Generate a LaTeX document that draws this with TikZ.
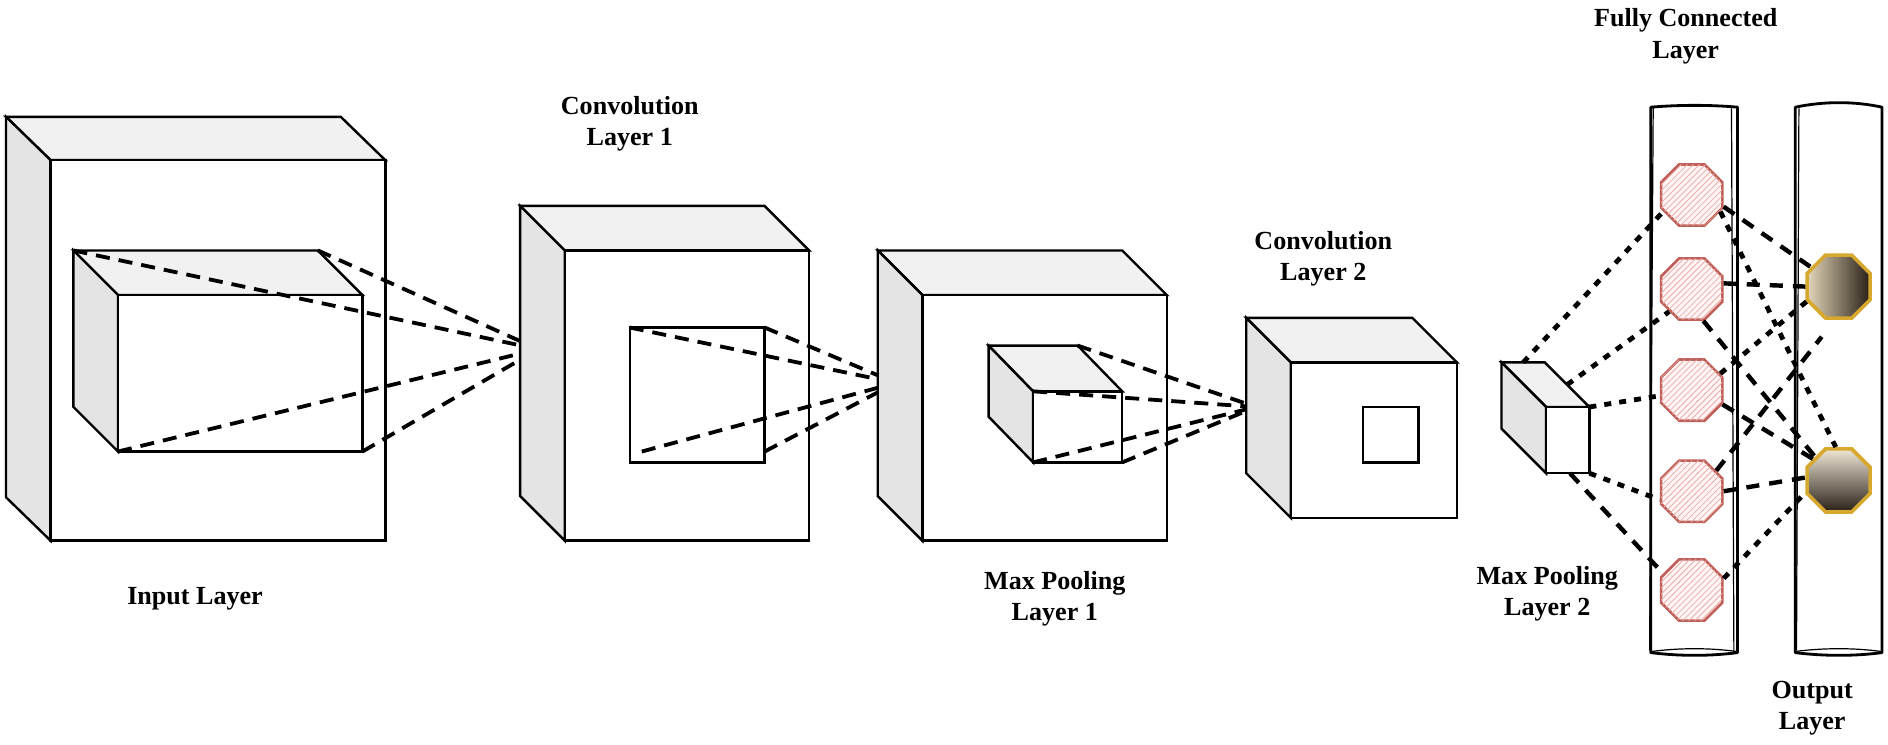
\documentclass[tikz,border=0pt]{standalone}
\usepackage{fontspec}
\setmainfont{Liberation Serif}
\usetikzlibrary{shapes.geometric,patterns,calc}
\definecolor{topgray}{RGB}{241,241,241}
\definecolor{sidegray}{RGB}{228,228,228}
\definecolor{neuronred}{RGB}{192,96,90}
\definecolor{hatchred}{RGB}{236,176,170}
\definecolor{goldrim}{RGB}{214,168,45}
\definecolor{lighttan}{RGB}{228,214,186}
\definecolor{darkbrown}{RGB}{40,32,22}
% #1 name, #2 x1, #3 y1, #4 x2, #5 y2 (front face), #6 dx, #7 dy (depth)
\newcommand{\mycuboid}[7]{%
  \coordinate (#1ftl) at (#2,#3);
  \coordinate (#1ftr) at (#4,#3);
  \coordinate (#1fbl) at (#2,#5);
  \coordinate (#1fbr) at (#4,#5);
  \coordinate (#1btl) at (#2-#6,#3-#7);
  \coordinate (#1btr) at (#4-#6,#3-#7);
  \coordinate (#1bbl) at (#2-#6,#5-#7);
  \draw[edge, fill=topgray] (#1ftl) -- (#1btl) -- (#1btr) -- (#1ftr) -- cycle;
  \draw[edge, fill=sidegray] (#1ftl) -- (#1btl) -- (#1bbl) -- (#1fbl) -- cycle;
  \draw[edge, fill=white] (#1ftl) rectangle (#1fbr);
}
\begin{document}
\begin{tikzpicture}[x=0.6pt,y=-0.6pt,
  edge/.style={line width=1.2pt, line join=miter},
  convline/.style={line width=1.9pt, dash pattern=on 7pt off 4.5pt},
  fcdot/.style={line width=2.4pt, dash pattern=on 3.5pt off 4pt},
  fcdash/.style={line width=2.2pt, dash pattern=on 6.5pt off 5pt},
  lbl/.style={font=\fontsize{13}{15.6}\selectfont\bfseries, align=center, inner sep=0pt},
  fcn/.style={regular polygon, regular polygon sides=8, minimum size=33pt, inner sep=0pt,
    draw=neuronred, line width=1.3pt, fill=red!4,
    postaction={pattern=north east lines, pattern color=hatchred}},
  outn/.style={regular polygon, regular polygon sides=8, minimum size=34pt, inner sep=0pt,
    draw=goldrim, line width=1.8pt},
  colm/.style={line width=1.4pt, line join=round},
  colthin/.style={line width=0.6pt}
]
\useasboundingbox (0,0) rectangle (1568,618);

% ---------- Input layer ----------
\mycuboid{in}{42}{133}{320}{449}{37}{36}
\mycuboid{ii}{98}{245}{301}{375}{37}{37}
\coordinate (c1) at (447,290);
\draw[convline] (iibtl) -- (c1);
\draw[convline] (iibtr) -- (c1);
\draw[convline] (iifbl) -- (c1);
\draw[convline] (iifbr) -- (c1);

% ---------- Convolution layer 1 ----------
\mycuboid{ca}{469}{208}{672}{449}{37}{37}
\draw[edge, fill=white] (523,272) rectangle (635,384);
\coordinate (r1tl) at (523,272);
\coordinate (r1tr) at (635,272);
\coordinate (r1bl) at (533,375);
\coordinate (r1br) at (635,375);
\coordinate (c2) at (744,318);
\draw[convline] (r1tl) -- (c2);
\draw[convline] (r1tr) -- (c2);
\draw[convline] (r1bl) -- (c2);
\draw[convline] (r1br) -- (c2);

% ---------- Max pooling layer 1 ----------
\mycuboid{ma}{766}{245}{969}{449}{37}{37}
\mycuboid{mi}{858}{325}{932}{384}{37}{38}
\coordinate (c3) at (1043,338);
\draw[convline] (mibtr) -- (c3);
\draw[convline] (miftl) -- (c3);
\draw[convline] (mifbl) -- (c3);
\draw[convline] (mifbr) -- (c3);

% ---------- Convolution layer 2 ----------
\mycuboid{cb}{1072}{301}{1210}{430}{37}{37}
\draw[edge, fill=white] (1132,338) rectangle (1178,384);

% ---------- Max pooling layer 2 ----------
\mycuboid{mp}{1284}{338}{1320}{393}{37}{37}

% ---------- Columns ----------
\draw[colm] (1371,89) .. controls (1395,87) and (1420,87) .. (1443,89) -- (1443,542)
  .. controls (1420,545) and (1395,545) .. (1371,542) -- cycle;
\draw[colthin] (1373,88) -- (1370,540);
\draw[colthin] (1438,90) -- (1440,543);
\draw[colthin] (1372,541) .. controls (1395,538) and (1420,538) .. (1442,541);

\draw[colm] (1491,89) .. controls (1515,84) and (1540,84) .. (1563,89) -- (1563,542)
  .. controls (1540,545) and (1515,545) .. (1491,542) -- cycle;
\draw[colthin] (1494,90) -- (1492,540);
\draw[colthin] (1491,541) .. controls (1515,538) and (1540,538) .. (1562,541);

% ---------- Neurons ----------
\node[fcn] (f1) at (1405,162) {};
\node[fcn] (f2) at (1405,240) {};
\node[fcn] (f3) at (1405,324) {};
\node[fcn] (f4) at (1405,408) {};
\node[fcn] (f5) at (1405,490) {};
\node[outn, left color=lighttan, right color=darkbrown] (o1) at (1527,238) {};
\node[outn, top color=lighttan!60!white, bottom color=darkbrown] (o2) at (1527,399) {};

% ---------- Max pooling 2 -> FC ----------
\coordinate (p1) at ($(mpbtl)!0.5!(mpbtr)$);
\coordinate (p2) at ($(mpbtr)!0.5!(mpftr)$);
\coordinate (p5) at ($(mpfbl)!0.55!(mpfbr)$);
\draw[fcdot] (p1) -- (f1.210);
\draw[fcdot] (p2) -- (f2.225);
\draw[fcdot] (mpftr) -- (f3.190);
\draw[fcdot] (mpfbr) -- (f4.195);
\draw[fcdash] (p5) -- (f5.150);

% ---------- FC -> output ----------
\draw[fcdot] (f1.-30) -- (o2.95);
\draw[fcdash] (f1.-20) -- (o1.145);
\draw[fcdash] (f2.10) -- (o1.west);
\draw[fcdash] (f2.-70) -- (o2.135);
\draw[fcdot] (f3.30) -- (o1.205);
\draw[fcdash] (f3.-25) -- (o2.140);
\draw[fcdash] (f4.40) -- ($(o1.250)+(-4,14)$);
\draw[fcdash] (f4.0) -- (o2.175);
\draw[fcdot] (f5.20) -- (o2.200);

% ---------- Labels ----------
\node[lbl] (linput) at (162,497) {Input Layer};
\node[lbl] (lconv1) at (523,103) {Convolution\\Layer 1};
\node[lbl] (lpool1) at (876,497) {Max Pooling\\Layer 1};
\node[lbl] (lconv2) at (1099,215) {Convolution\\Layer 2};
\node[lbl] (lpool2) at (1285,493) {Max Pooling\\Layer 2};
\node[lbl] (lfc) at (1400,30) {Fully Connected\\Layer};
\node[lbl] (lout) at (1505,588) {Output\\Layer};
\end{tikzpicture}
\end{document}
